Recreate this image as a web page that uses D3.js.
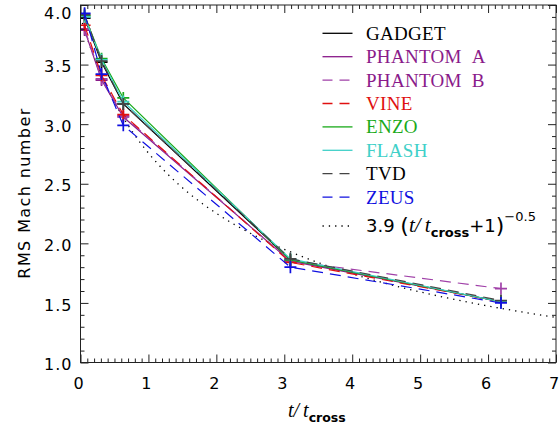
<!DOCTYPE html>
<html>
<head>
<meta charset="utf-8">
<script src="https://cdn.jsdelivr.net/npm/d3@7/dist/d3.min.js"></script>
<style>
  html, body { margin: 0; padding: 0; background: #fff; }
  svg { display: block; }
</style>
</head>
<body>
<div id="chart"></div>
<script>
// Sampling times (t / t_cross) shared by every code
const times = [0.06, 0.31, 0.63, 3.09, 6.19];

// RMS Mach number for each code at those times
const codeNames = ["GADGET", "PHANTOM A", "PHANTOM B", "VINE", "ENZO", "FLASH", "TVD", "ZEUS"];
const gadget   = [3.89, 3.52, 3.17, 1.86, 1.51];
const phantomA = [3.79, 3.37, 3.06, 1.85, 1.51];
const phantomB = [3.80, 3.38, 3.07, 1.85, 1.62];
const vine     = [3.83, 3.41, 3.08, 1.84, 1.51];
const enzo     = [3.91, 3.55, 3.22, 1.86, 1.51];
const flash    = [3.90, 3.54, 3.19, 1.87, 1.51];
const tvd      = [3.92, 3.53, 3.17, 1.87, 1.52];
const zeus     = [3.93, 3.42, 2.99, 1.80, 1.50];
const codeValues = [gadget, phantomA, phantomB, vine, enzo, flash, tvd, zeus];

// Line colours, legend text colours and dash styles per code
const lineColors = ["#000000", "#8a1a8a", "#a040a8", "#e01010", "#1aaa1a", "#40d0c8", "#444444", "#1010e0"];
const textColors = ["#000000", "#8a1a8a", "#8a1a8a", "#e01010", "#1aaa1a", "#40d0c8", "#000000", "#1010e0"];
const dashed     = [false, false, true, true, false, false, true, true];

// Power-law reference curve: 3.9 (t/t_cross + 1)^-0.5
const fitAmp = 3.9, fitExp = -0.5;

// Axis ticks
const xMajor = [0, 1, 2, 3, 4, 5, 6, 7];
const yMajor = [1.0, 1.5, 2.0, 2.5, 3.0, 3.5, 4.0];

const W = 559, H = 432;
const pLeft = 80.5, pRight = 556, pTop = 5, pBottom = 362.5;

const svg = d3.select("#chart").append("svg")
  .attr("width", W).attr("height", H);

const x = d3.scaleLinear().domain([0, 7]).range([pLeft, pRight]);
const y = d3.scaleLinear().domain([1, 4]).range([pBottom, pTop]);

const tickFont = "DejaVu Sans";
const xMinor = d3.range(0, 70.5, 1).map(d => d / 10).filter(d => !xMajor.includes(d));
const yMinor = d3.range(10, 40.5, 1).map(d => d / 10).filter(d => !yMajor.some(m => Math.abs(m - d) < 1e-9));

// Clip for data
svg.append("clipPath").attr("id", "plotclip")
  .append("rect").attr("x", pLeft).attr("y", pTop)
  .attr("width", pRight - pLeft).attr("height", pBottom - pTop);

const plot = svg.append("g").attr("clip-path", "url(#plotclip)");

// Reference curve (dotted)
const fitPts = d3.range(0, 7.001, 0.05).map(t => [t, fitAmp * Math.pow(t + 1, fitExp)]);
plot.append("path")
  .datum(fitPts)
  .attr("d", d3.line().x(d => x(d[0])).y(d => y(d[1])))
  .attr("fill", "none").attr("stroke", "#000")
  .attr("stroke-width", 1.3).attr("stroke-dasharray", "1.3,5");

// Code curves with + markers
const line = d3.line().x(d => x(d[0])).y(d => y(d[1]));
codeNames.forEach((name, i) => {
  const pts = times.map((t, j) => [t, codeValues[i][j]]);
  const g = plot.append("g");
  g.append("path").datum(pts)
    .attr("d", line)
    .attr("fill", "none")
    .attr("stroke", lineColors[i])
    .attr("stroke-width", 1.2)
    .attr("stroke-dasharray", dashed[i] ? "11,7" : null);
  const s = 6;
  g.selectAll("path.m").data(pts).enter().append("path")
    .attr("class", "m")
    .attr("d", d => `M${x(d[0]) - s},${y(d[1])}H${x(d[0]) + s}M${x(d[0])},${y(d[1]) - s}V${y(d[1]) + s}`)
    .attr("stroke", lineColors[i])
    .attr("stroke-width", 1.7);
});

// Axes: inward ticks on all four sides
function styleAxis(g) {
  g.select(".domain").remove();
  g.selectAll("line").attr("stroke", "#222").attr("stroke-width", 1);
}
svg.append("g").attr("transform", `translate(0,${pBottom})`)
  .call(d3.axisBottom(x).tickValues(xMinor).tickSize(-4).tickFormat("")).call(styleAxis);
svg.append("g").attr("transform", `translate(0,${pBottom})`)
  .call(d3.axisBottom(x).tickValues(xMajor).tickSize(-8).tickPadding(22).tickFormat(d3.format("d")))
  .call(styleAxis)
  .call(g => g.selectAll("text").attr("font-family", tickFont).attr("font-size", 16)
    .attr("fill", "#000").attr("dy", "0.3em").attr("dx", -2.5));
svg.append("g").attr("transform", `translate(0,${pTop})`)
  .call(d3.axisTop(x).tickValues(xMinor).tickSize(-4).tickFormat("")).call(styleAxis);
svg.append("g").attr("transform", `translate(0,${pTop})`)
  .call(d3.axisTop(x).tickValues(xMajor).tickSize(-8).tickFormat("")).call(styleAxis);

svg.append("g").attr("transform", `translate(${pLeft},0)`)
  .call(d3.axisLeft(y).tickValues(yMinor).tickSize(-4).tickFormat("")).call(styleAxis);
svg.append("g").attr("transform", `translate(${pLeft},0)`)
  .call(d3.axisLeft(y).tickValues(yMajor).tickSize(-8).tickPadding(8).tickFormat(d3.format(".1f")))
  .call(styleAxis)
  .call(g => g.selectAll("text").attr("font-family", tickFont).attr("font-size", 16)
    .attr("letter-spacing", "1px").attr("fill", "#000")
    .attr("dy", d => d === 4 ? "0.85em" : "0.45em"));
svg.append("g").attr("transform", `translate(${pRight},0)`)
  .call(d3.axisRight(y).tickValues(yMinor).tickSize(-4).tickFormat("")).call(styleAxis);
svg.append("g").attr("transform", `translate(${pRight},0)`)
  .call(d3.axisRight(y).tickValues(yMajor).tickSize(-8).tickFormat("")).call(styleAxis);

// Frame
svg.append("rect")
  .attr("x", pLeft).attr("y", pTop).attr("width", pRight - pLeft).attr("height", pBottom - pTop)
  .attr("fill", "none").attr("stroke", "#222").attr("stroke-width", 1);

// Axis titles
svg.append("text")
  .attr("transform", "translate(30,193) rotate(-90)")
  .attr("text-anchor", "middle")
  .attr("font-family", tickFont).attr("font-size", 16).attr("letter-spacing", "1.4px")
  .attr("fill", "#000")
  .text("RMS Mach number");

const xt = svg.append("text")
  .attr("x", 288).attr("y", 417)
  .attr("font-size", 20).attr("fill", "#000");
xt.append("tspan").attr("font-family", "Liberation Serif").attr("font-style", "italic").text("t/\u2009t");
xt.append("tspan").attr("font-family", tickFont).attr("font-weight", "bold")
  .attr("font-size", 12.5).attr("dy", 5).text("cross");

// Legend
const legX1 = 322.5, legX2 = 352.5, legTextX = 366;
const rowY = d3.range(codeNames.length).map(i => 33.3 + i * 23.4);
const leg = svg.append("g");
codeNames.forEach((name, i) => {
  leg.append("line")
    .attr("x1", legX1).attr("x2", legX2).attr("y1", rowY[i]).attr("y2", rowY[i])
    .attr("stroke", lineColors[i]).attr("stroke-width", 1.3)
    .attr("stroke-dasharray", dashed[i] ? "10,7" : null);
  leg.append("text")
    .attr("x", legTextX).attr("y", rowY[i] + 6.5)
    .attr("font-family", "Liberation Serif").attr("font-size", 19)
    .attr("letter-spacing", "0.3px")
    .attr("fill", textColors[i])
    .text(name.replace(" ", "\u00a0\u00a0"));
});

// Legend row for the reference curve
const fitY = 226;
leg.append("line")
  .attr("x1", legX1).attr("x2", legX2).attr("y1", fitY).attr("y2", fitY)
  .attr("stroke", "#000").attr("stroke-width", 1.3).attr("stroke-dasharray", "1.3,5");
const ft = leg.append("text")
  .attr("x", legTextX).attr("y", fitY + 6)
  .attr("font-family", tickFont).attr("font-size", 18).attr("fill", "#000");
ft.append("tspan").text("3.9 ");
ft.append("tspan").attr("font-size", 22).attr("dy", 1).text("(");
ft.append("tspan").attr("font-family", "Liberation Serif").attr("font-style", "italic")
  .attr("font-size", 21).attr("dy", -1).text("t/\u2009t");
ft.append("tspan").attr("font-weight", "bold").attr("font-size", 13).attr("dy", 5).text("cross");
ft.append("tspan").attr("dy", -5).text("+1");
ft.append("tspan").attr("font-size", 22).attr("dy", 1).text(")");
ft.append("tspan").attr("font-size", 13).attr("dy", -12).text("\u22120.5");
</script>
</body>
</html>
